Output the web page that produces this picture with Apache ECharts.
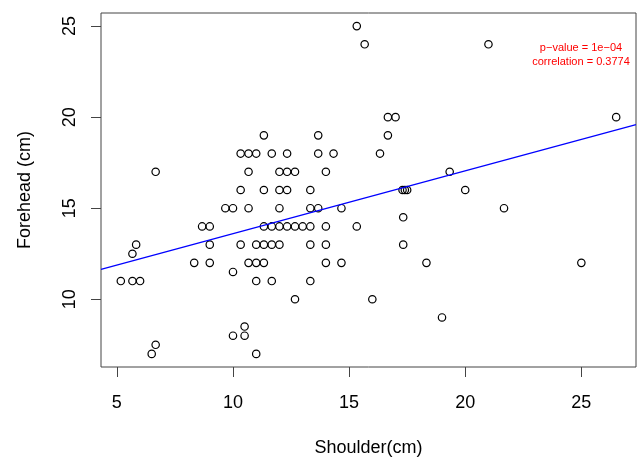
<!DOCTYPE html>
<html>
<head>
<meta charset="utf-8">
<title>Forehead vs Shoulder</title>
<script src="https://cdn.jsdelivr.net/npm/echarts@6/dist/echarts.min.js"></script>
<style>
  html, body { margin: 0; padding: 0; background: #fff; }
  #chart { width: 637px; height: 458px; }
</style>
</head>
<body>
<div id="chart"></div>
<script>
// values (cm)
var shoulder = [
  15.33, 15.67, 21,
  16.67, 17, 26.5,
  11.33, 13.67, 16.67,
  10.33, 10.67, 11, 11.67, 12.33, 13.67, 14.33, 16.33,
  6.67, 10.67, 12, 12.33, 12.67, 14, 19.33,
  10.33, 11.33, 12, 12.33, 13.33, 17.3, 17.4, 17.5, 20,
  9.67, 10, 10.67, 12, 13.33, 13.67, 14.67, 21.67,
  17.33,
  8.67, 9, 11.33, 11.67, 12, 12.33, 12.67, 13, 13.33, 14, 15.33,
  5.83, 9, 10.33, 11, 11.33, 11.67, 12, 13.33, 14, 17.33,
  5.67,
  8.33, 9, 10.67, 11, 11.33, 14, 14.67, 18.33, 25,
  10,
  5.17, 5.67, 6, 11, 11.67, 13.33,
  12.67, 16,
  19,
  10.5,
  10, 10.5,
  6.67,
  6.5, 11
];
var forehead = [
  25, 24, 24,
  20, 20, 20,
  19, 19, 19,
  18, 18, 18, 18, 18, 18, 18, 18,
  17, 17, 17, 17, 17, 17, 17,
  16, 16, 16, 16, 16, 16, 16, 16, 16,
  15, 15, 15, 15, 15, 15, 15, 15,
  14.5,
  14, 14, 14, 14, 14, 14, 14, 14, 14, 14, 14,
  13, 13, 13, 13, 13, 13, 13, 13, 13, 13,
  12.5,
  12, 12, 12, 12, 12, 12, 12, 12, 12,
  11.5,
  11, 11, 11, 11, 11, 11,
  10, 10,
  9,
  8.5,
  8, 8,
  7.5,
  7, 7
];
var xTicks = [5, 10, 15, 20, 25];
var yTicks = [10, 15, 20, 25];
// fitted line y = a + b * x, as drawn
var fitIntercept = 10.15;
var fitSlope = 0.345;
var statsText = ['p\u2212value = 1e\u221204', 'correlation = 0.3774'];

// R style axis range: data range padded by 4%
function padRange (arr) {
  var lo = Math.min.apply(null, arr)
  var hi = Math.max.apply(null, arr)
  var d = (hi - lo) * 0.04
  return [lo - d, hi + d]
}
var xr = padRange(shoulder)
var yr = padRange(forehead)

var points = shoulder.map(function (x, i) { return [x, forehead[i]] })
var fitLine = [
  [xr[0], fitIntercept + fitSlope * xr[0]],
  [xr[1], fitIntercept + fitSlope * xr[1]]
]

var font = 'Liberation Sans, Arial, Helvetica, sans-serif'
var chart = echarts.init(document.getElementById('chart'), null, { renderer: 'canvas' })
chart.setOption({
  animation: false,
  backgroundColor: '#fff',
  grid: {
    left: 101,
    right: 1,
    top: 13,
    bottom: 91,
    outerBoundsMode: 'none',
    containLabel: false,
    show: true,
    borderColor: '#444',
    borderWidth: 1,
    backgroundColor: 'transparent'
  },
  xAxis: {
    type: 'value',
    min: xr[0],
    max: xr[1],
    name: 'Shoulder(cm)',
    nameLocation: 'middle',
    nameGap: 72,
    nameTextStyle: { fontFamily: font, fontSize: 18, color: '#000' },
    axisLine: { show: false },
    splitLine: { show: false },
    axisTick: {
      show: true,
      inside: false,
      length: 10,
      customValues: xTicks,
      lineStyle: { color: '#444', width: 1 }
    },
    axisLabel: {
      customValues: xTicks,
      margin: 27,
      fontFamily: font,
      fontSize: 18,
      color: '#000'
    }
  },
  yAxis: {
    type: 'value',
    min: yr[0],
    max: yr[1],
    name: 'Forehead (cm)',
    nameLocation: 'middle',
    nameRotate: 90,
    nameGap: 67,
    nameTextStyle: { fontFamily: font, fontSize: 18, color: '#000' },
    axisLine: { show: false },
    splitLine: { show: false },
    axisTick: {
      show: true,
      inside: false,
      length: 10,
      customValues: yTicks,
      lineStyle: { color: '#444', width: 1 }
    },
    axisLabel: {
      customValues: yTicks,
      rotate: 90,
      margin: 22,
      fontFamily: font,
      fontSize: 18,
      color: '#000'
    }
  },
  graphic: [{
    type: 'text',
    x: 581,
    y: 41,
    style: {
      text: statsText.join('\n'),
      fill: '#ff0000',
      font: '11px ' + font,
      align: 'center',
      lineHeight: 14
    }
  }],
  series: [
    {
      type: 'scatter',
      data: points,
      symbol: 'circle',
      symbolSize: 7.4,
      silent: true,
      itemStyle: {
        color: 'rgba(0,0,0,0)',
        borderColor: '#000',
        borderWidth: 1.2,
        opacity: 1
      }
    },
    {
      type: 'line',
      data: fitLine,
      showSymbol: false,
      symbol: 'none',
      silent: true,
      clip: true,
      lineStyle: { color: '#0000ff', width: 1.2 }
    }
  ]
})
</script>
</body>
</html>
